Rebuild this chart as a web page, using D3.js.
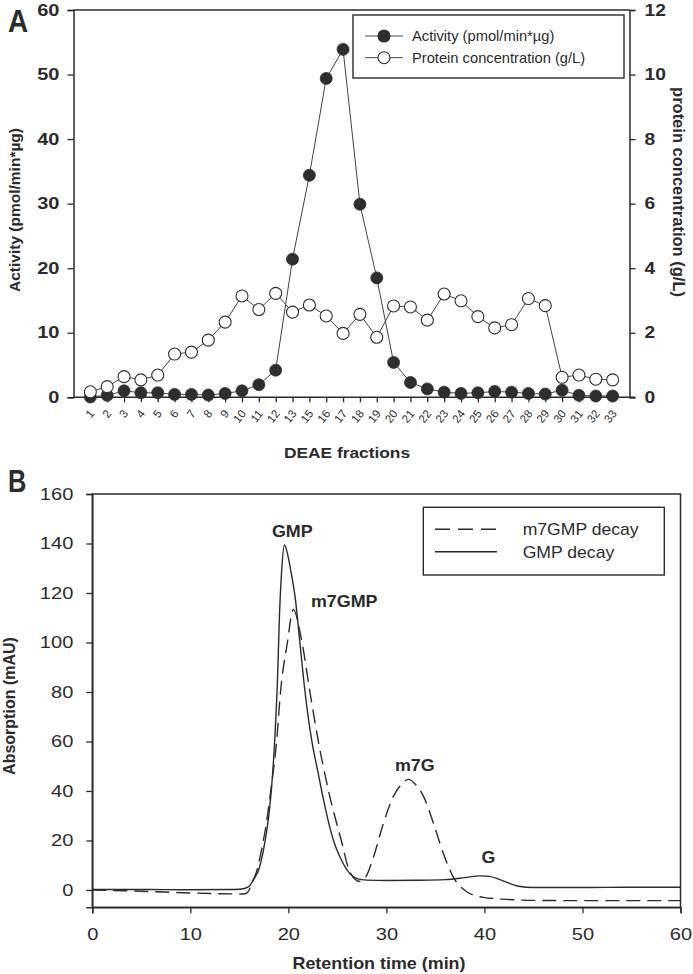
<!DOCTYPE html>
<html>
<head>
<meta charset="utf-8">
<script src="https://cdn.jsdelivr.net/npm/d3@7"></script>
<style>
  html, body { margin: 0; padding: 0; background: #fff; }
  svg { display: block; }
  text { font-family: "Liberation Sans", Arial, Helvetica, sans-serif; fill: #2b2b2b; }
</style>
</head>
<body>
<svg id="chart" width="693" height="974"></svg>
<script>
// ---------- Panel A data ----------
const fractions = ["1","2","3","4","5","6","7","8","9","10","11","12","13","15","16","17","18","19","20","21","22","23","24","25","26","27","28","29","30","31","32","33"];
const activity = [0.05, 0.3, 1.0, 0.7, 0.7, 0.45, 0.45, 0.35, 0.6, 1.0, 1.95, 4.2, 21.4, 34.4, 49.4, 53.9, 29.9, 18.5, 5.4, 2.3, 1.3, 0.8, 0.6, 0.7, 0.9, 0.8, 0.6, 0.5, 1.1, 0.3, 0.2, 0.2];
const protein = [0.17, 0.33, 0.64, 0.54, 0.69, 1.34, 1.4, 1.77, 2.33, 3.14, 2.72, 3.22, 2.64, 2.86, 2.52, 1.98, 2.57, 1.86, 2.83, 2.8, 2.39, 3.2, 2.99, 2.5, 2.15, 2.25, 3.06, 2.84, 0.62, 0.69, 0.56, 0.54];
const activityTicks = [0, 10, 20, 30, 40, 50, 60];
const proteinTicks = [0, 2, 4, 6, 8, 10, 12];
const legendA = ["Activity (pmol/min*\u00b5g)", "Protein concentration (g/L)"];

// ---------- Panel B data ----------
const gmpTime = [0, 5, 10, 14, 15, 15.5, 16, 16.5, 17, 17.5, 18, 18.3, 18.6, 18.9, 19.1, 19.3, 19.6, 19.9, 20.2, 20.7, 21.2, 21.7, 22.4, 23.0, 23.4, 24.0, 24.6, 25.3, 26.3, 27, 28, 30, 33, 36, 38, 39.5, 40.5, 41.5, 42.5, 43.5, 45, 50, 55, 60];
const gmpAbs  = [0.2, 0.2, 0.1, 0.2, 0.3, 0.6, 1.5, 4.5, 8.5, 17, 30, 42, 60, 86, 112, 128, 139.4, 136, 130, 118, 99, 80, 60, 48, 40, 29, 20, 13, 6.5, 4.6, 4.0, 3.8, 3.9, 4.2, 5.0, 5.7, 5.5, 4.3, 2.8, 1.5, 1.0, 1.0, 1.1, 1.1];
const m7Time = [0, 5, 10, 15, 15.6, 16, 16.3, 16.8, 17.3, 17.8, 18.2, 18.8, 19.2, 19.9, 20.5, 21.3, 22.2, 23.06, 24.1, 25.4, 26.3, 27.3, 28, 28.7, 29.7, 30.7, 31.5, 32.25, 33, 33.8, 34.8, 35.8, 36.9, 38.2, 39.9, 42.3, 45, 50, 55, 60];
const m7Abs  = [0, -0.5, -1.2, -1.6, -1.5, 0, 3, 8, 17, 28, 40, 60, 80, 100, 113.4, 102, 80, 60, 40, 20, 7, 3.4, 6, 13.5, 27, 37.7, 42.5, 44.7, 42.5, 37.7, 27, 14.8, 4.7, -0.7, -3, -3.8, -4.2, -4.3, -4.3, -4.3];
const absTicks = [0, 20, 40, 60, 80, 100, 120, 140, 160];
const timeTicks = [0, 10, 20, 30, 40, 50, 60];
const legendB = ["m7GMP decay", "GMP decay"];
const peakLabels = ["GMP", "m7GMP", "m7G", "G"];
const peakTime = [20.4, 25.7, 32.9, 40.4];
const peakAbs = [142.5, 114.5, 48.2, 11];

const svg = d3.select("#chart");
svg.append("rect").attr("width", 693).attr("height", 974).attr("fill", "#fff");
const ink = "#2b2b2b";

function stretch(sel, k) {
  sel.each(function () {
    const t = d3.select(this);
    const x = +(t.attr("x") || 0);
    t.attr("transform", `translate(${x * (1 - k)},0) scale(${k},1)`);
  });
}

// ================= PANEL A =================
const xA = d3.scaleLinear().domain([-1, fractions.length]).range([73.5, 629.5]);
const yA = d3.scaleLinear().domain([0, 60]).range([397.3, 10]);
const yA2 = d3.scaleLinear().domain([0, 12]).range([397.3, 10]);
const gA = svg.append("g");

gA.append("line").attr("x1", 73.5).attr("x2", 629.5).attr("y1", 10).attr("y2", 10)
  .attr("stroke", ink).attr("stroke-width", 1.5);

const axL = gA.append("g").attr("transform", "translate(73.5,0)")
  .call(d3.axisLeft(yA).tickValues(activityTicks).tickSize(6).tickPadding(8));
axL.selectAll("text").attr("font-size", 16).attr("font-weight", "bold");
stretch(axL.selectAll("text"), 1.25);

const axR = gA.append("g").attr("transform", "translate(629.5,0)")
  .call(d3.axisRight(yA2).tickValues(proteinTicks).tickSize(6).tickPadding(9));
axR.selectAll("text").attr("font-size", 16).attr("font-weight", "bold");
stretch(axR.selectAll("text"), 1.2);

const axB = gA.append("g").attr("transform", "translate(0,397.3)")
  .call(d3.axisBottom(xA).tickValues(d3.range(fractions.length)).tickFormat(i => fractions[i]).tickSize(5));
axB.select(".domain").attr("d", "M73.5,0H635");
axB.selectAll("text")
  .attr("font-size", 11.5).attr("text-anchor", "end")
  .attr("x", 0).attr("y", 0).attr("dy", "0.35em")
  .attr("transform", "translate(1,14) rotate(-52)");

[axL, axR, axB].forEach(a => {
  a.selectAll(".domain").attr("stroke", ink).attr("stroke-width", 1.5);
  a.selectAll(".tick line").attr("stroke", ink).attr("stroke-width", 1.3);
  a.selectAll("text").attr("fill", ink);
});

gA.append("text").attr("transform", "translate(19.5,210) rotate(-90)")
  .attr("text-anchor", "middle").attr("font-size", 15.5).attr("font-weight", "bold")
  .text("Activity (pmol/min*\u00b5g)");
gA.append("text").attr("transform", "translate(673,192) rotate(90)")
  .attr("text-anchor", "middle").attr("font-size", 16.5).attr("font-weight", "bold")
  .text("protein concentration (g/L)");
const tA = gA.append("text").attr("x", 347).attr("y", 458).attr("text-anchor", "middle")
  .attr("font-size", 15.5).attr("font-weight", "bold").text("DEAE fractions");
stretch(tA, 1.12);

const lA = svg.append("text").attr("x", 8).attr("y", 32).attr("font-size", 31).attr("font-weight", "bold").text("A");
stretch(lA, 0.9);

gA.append("path")
  .attr("d", d3.line().x((d, i) => xA(i)).y(d => yA(d))(activity))
  .attr("fill", "none").attr("stroke", "#444").attr("stroke-width", 1);
gA.selectAll(".act").data(activity).join("circle").attr("class", "act")
  .attr("cx", (d, i) => xA(i)).attr("cy", d => yA(d)).attr("r", 6)
  .attr("fill", "#2e2e2e").attr("stroke", "#2e2e2e").attr("stroke-width", 0.8);
gA.append("path")
  .attr("d", d3.line().x((d, i) => xA(i)).y(d => yA2(d))(protein))
  .attr("fill", "none").attr("stroke", "#444").attr("stroke-width", 1);
gA.selectAll(".prot").data(protein).join("circle").attr("class", "prot")
  .attr("cx", (d, i) => xA(i)).attr("cy", d => yA2(d)).attr("r", 6)
  .attr("fill", "#fff").attr("stroke", "#2e2e2e").attr("stroke-width", 1.1);

const legA = gA.append("g");
legA.append("rect").attr("x", 353).attr("y", 15).attr("width", 271).attr("height", 63)
  .attr("fill", "#fff").attr("stroke", ink).attr("stroke-width", 1.4);
legendA.forEach((lab, i) => {
  const y = 36 + i * 21.7;
  legA.append("line").attr("x1", 365).attr("x2", 403).attr("y1", y).attr("y2", y)
    .attr("stroke", "#444").attr("stroke-width", 1);
  legA.append("circle").attr("cx", 384).attr("cy", y).attr("r", 6)
    .attr("fill", i === 0 ? "#2e2e2e" : "#fff").attr("stroke", "#2e2e2e").attr("stroke-width", 1.1);
  const t = legA.append("text").attr("x", 412).attr("y", y + 5).attr("font-size", 14).text(lab);
  stretch(t, 1.05);
});

// ================= PANEL B =================
const xB = d3.scaleLinear().domain([0, 60]).range([92.3, 680.5]);
const yB = d3.scaleLinear().domain([-7, 160]).range([907.3, 494]);
const gB = svg.append("g");

gB.append("rect").attr("x", 92.3).attr("y", 494).attr("width", 680.5 - 92.3).attr("height", 907.3 - 494)
  .attr("fill", "none").attr("stroke", ink).attr("stroke-width", 1.5);

const bL = gB.append("g").attr("transform", "translate(92.3,0)")
  .call(d3.axisLeft(yB).tickValues(absTicks).tickSize(6).tickPadding(13));
const bB = gB.append("g").attr("transform", "translate(0,907.3)")
  .call(d3.axisBottom(xB).tickValues(timeTicks).tickSize(6).tickPadding(15));
[bL, bB].forEach(a => {
  a.selectAll(".domain").attr("stroke", ink).attr("stroke-width", 1.5);
  a.selectAll(".tick line").attr("stroke", ink).attr("stroke-width", 1.3);
  a.selectAll("text").attr("font-size", 17).attr("fill", ink);
});
stretch(bL.selectAll("text"), 1.18);
bB.selectAll("text").attr("transform", "scale(1.18,1)");

gB.append("text").attr("transform", "translate(15,706) rotate(-90)")
  .attr("text-anchor", "middle").attr("font-size", 16).attr("font-weight", "bold")
  .text("Absorption (mAU)");
const tB = gB.append("text").attr("x", 379).attr("y", 969).attr("text-anchor", "middle")
  .attr("font-size", 16).attr("font-weight", "bold").text("Retention time (min)");
stretch(tB, 1.12);

const lB = svg.append("text").attr("x", 8).attr("y", 492).attr("font-size", 31).attr("font-weight", "bold").text("B");
stretch(lB, 0.82);

const curve = d3.line().curve(d3.curveMonotoneX).x(d => xB(d[0])).y(d => yB(d[1]));
const gmp = gmpTime.map((t, i) => [t, gmpAbs[i]]);
const m7 = m7Time.map((t, i) => [t, m7Abs[i]]);
gB.append("path").attr("d", curve(m7)).attr("fill", "none").attr("stroke", ink)
  .attr("stroke-width", 1.4).attr("stroke-dasharray", "14,7");
gB.append("path").attr("d", curve(gmp)).attr("fill", "none").attr("stroke", ink)
  .attr("stroke-width", 1.4);

peakLabels.forEach((lab, i) => {
  const t = gB.append("text").attr("x", xB(peakTime[i])).attr("y", yB(peakAbs[i]))
    .attr("text-anchor", "middle").attr("font-size", 16).attr("font-weight", "bold").text(lab);
  stretch(t, 1.12);
});

const legB = gB.append("g");
legB.append("rect").attr("x", 423.3).attr("y", 507.3).attr("width", 241).attr("height", 67.7)
  .attr("fill", "#fff").attr("stroke", ink).attr("stroke-width", 1.4);
legendB.forEach((lab, i) => {
  const y = 529.3 + i * 22.4;
  legB.append("line").attr("x1", 435).attr("x2", 497).attr("y1", y).attr("y2", y)
    .attr("stroke", ink).attr("stroke-width", 1.4).attr("stroke-dasharray", i === 0 ? "15,8" : null);
  const t = legB.append("text").attr("x", 522.7).attr("y", y + 6).attr("font-size", 16).text(lab);
  stretch(t, 1.1);
});
</script>
</body>
</html>
